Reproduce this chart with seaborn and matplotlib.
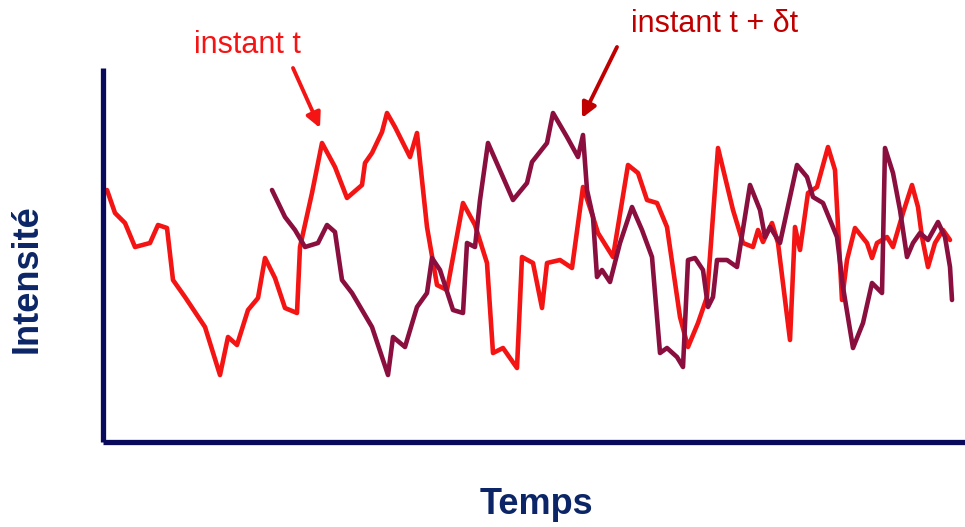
import pandas as pd
import seaborn as sns
import matplotlib.pyplot as plt

# Signal at instant t (red) and the same signal at instant t + dt (dark red)
time_t = [4, 12, 22, 32, 47, 55, 64, 70, 82, 102,
          117, 125, 134, 145, 155, 162, 172, 182, 194, 197,
          209, 219, 232, 244, 259, 262, 269, 279, 284, 292,
          307, 314, 324, 334, 344, 360, 372, 384, 390, 400,
          414, 419, 430, 439, 444, 457, 469, 480, 490, 495,
          510, 525, 535, 544, 554, 564, 577, 585, 595, 604,
          615, 630, 640, 650, 655, 660, 669, 675, 687, 692,
          697, 705, 714, 725, 732, 739, 744, 752, 764, 769,
          774, 784, 790, 800, 809, 815, 819, 825, 832, 840,
          847]
intensity_t = [252, 229, 219, 195, 199, 217, 214, 162, 145, 115,
               67, 105, 97, 132, 144, 184, 164, 134, 129, 195,
               249, 299, 275, 244, 257, 279, 289, 310, 329, 315,
               285, 309, 215, 157, 152, 239, 217, 179, 89, 94,
               74, 185, 179, 134, 179, 182, 174, 255, 225, 209,
               185, 277, 269, 242, 239, 215, 125, 95, 119, 145,
               294, 232, 199, 195, 212, 200, 219, 199, 102, 215,
               192, 249, 255, 295, 272, 142, 182, 214, 199, 184,
               199, 205, 195, 229, 257, 235, 205, 175, 199, 212,
               202]

time_dt = [169, 182, 192, 202, 215, 224, 232, 239, 249, 269,
           285, 290, 302, 314, 324, 329, 337, 350, 360, 364,
           372, 377, 385, 410, 424, 429, 444, 450, 464, 475,
           480, 484, 490, 494, 499, 507, 517, 529, 539, 549,
           557, 564, 574, 580, 585, 592, 600, 605, 610, 614,
           624, 634, 647, 657, 662, 667, 677, 694, 704, 710,
           720, 734, 740, 750, 760, 769, 779, 782, 790, 797,
           804, 810, 817, 825, 835, 842, 847, 849]
intensity_dt = [252, 225, 212, 195, 199, 217, 210, 162, 149, 115,
                67, 105, 95, 135, 149, 184, 172, 132, 129, 199,
                195, 242, 299, 242, 259, 280, 299, 329, 305, 285,
                307, 252, 225, 165, 172, 160, 199, 235, 212, 185,
                89, 94, 85, 75, 182, 184, 172, 135, 145, 182,
                182, 175, 257, 232, 205, 215, 199, 277, 265, 245,
                239, 205, 155, 94, 119, 159, 149, 294, 269, 232,
                185, 199, 209, 202, 220, 205, 175, 142]

labels = ["instant t", "instant t + δt"]

red = "#f41414"
dark = "#8a0f3e"
navy = "#0a0a5c"
label_blue = "#0b2566"

df_t = pd.DataFrame({"Temps": time_t, "Intensité": intensity_t})
df_dt = pd.DataFrame({"Temps": time_dt, "Intensité": intensity_dt})

sns.set_style("white")
plt.rcParams["font.family"] = ["Liberation Sans", "DejaVu Sans"]

fig = plt.figure(figsize=(9.65, 5.27), dpi=100)
ax = fig.add_axes([103 / 965, 85 / 527, 862 / 965, 374 / 527])

sns.lineplot(data=df_t, x="Temps", y="Intensité", color=red, lw=3.3,
             estimator=None, sort=False, ax=ax,
             solid_joinstyle="round", solid_capstyle="round")
sns.lineplot(data=df_dt, x="Temps", y="Intensité", color=dark, lw=3.3,
             estimator=None, sort=False, ax=ax,
             solid_joinstyle="round", solid_capstyle="round")

ax.set_xlim(0, 862)
ax.set_ylim(0, 374)
ax.set_xticks([])
ax.set_yticks([])
ax.set_xlabel("")
ax.set_ylabel("")
sns.despine(ax=ax)
for side in ["left", "bottom"]:
    ax.spines[side].set_color(navy)
    ax.spines[side].set_linewidth(3.8)
    ax.spines[side].set_capstyle("butt")

# axis titles
fig.text(536 / 965, 1 - 505 / 527, "Temps", ha="center", va="center",
         fontsize=26, fontweight="bold", color=label_blue)
fig.text(27 / 965, 1 - 279 / 527, "Intensité", ha="center", va="center",
         rotation=90, fontsize=26, fontweight="bold", color=label_blue)

# annotations with arrows
fig.text(247 / 965, 1 - 45 / 527, labels[0], ha="center", va="center",
         fontsize=22, color=red)
fig.text(715 / 965, 1 - 24 / 527, labels[1], ha="center", va="center",
         fontsize=22, color="#c00000")

ax.annotate("", xy=(320 / 965, 1 - 128 / 527), xytext=(293 / 965, 1 - 68 / 527),
            xycoords="figure fraction", textcoords="figure fraction",
            arrowprops=dict(arrowstyle="-|>", lw=2.8, color=red,
                            mutation_scale=22, shrinkA=0, shrinkB=0))
ax.annotate("", xy=(582 / 965, 1 - 118 / 527), xytext=(617 / 965, 1 - 47 / 527),
            xycoords="figure fraction", textcoords="figure fraction",
            arrowprops=dict(arrowstyle="-|>", lw=2.8, color="#c00000",
                            mutation_scale=22, shrinkA=0, shrinkB=0))

plt.savefig("out.png", dpi=100)
